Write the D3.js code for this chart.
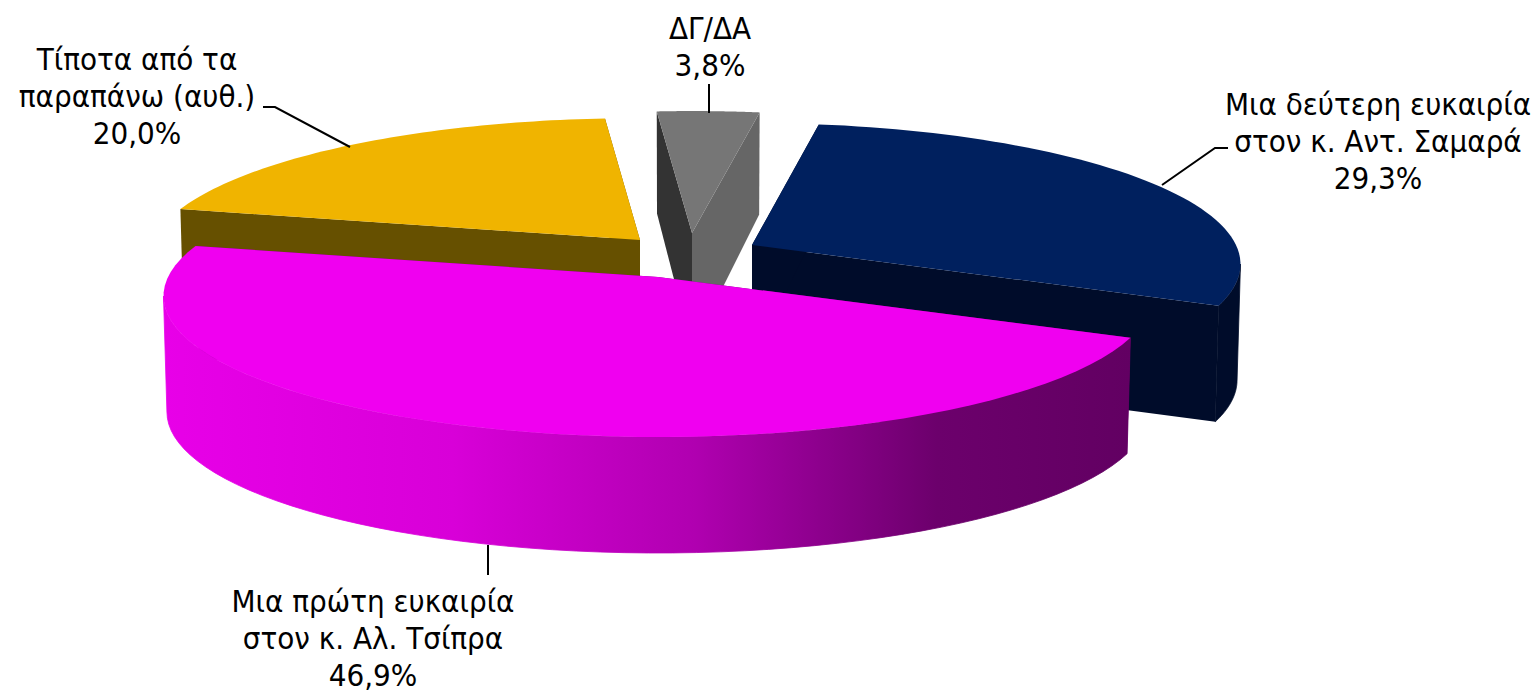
<!DOCTYPE html>
<html><head><meta charset="utf-8">
<style>html,body{margin:0;padding:0;background:#fff;overflow:hidden}svg{display:block}text{font-family:"DejaVu Sans Condensed","DejaVu Sans",sans-serif;font-stretch:condensed;font-size:31px;fill:#000;text-anchor:middle}</style>
<script src="https://cdn.jsdelivr.net/npm/d3@7"></script>
</head><body><svg id="c" width="1533" height="693"></svg>
<script>
const categories = ["Μια δεύτερη ευκαιρία|στον κ. Αντ. Σαμαρά", "Μια πρώτη ευκαιρία|στον κ. Αλ. Τσίπρα", "Τίποτα από τα|παραπάνω (αυθ.)", "ΔΓ/ΔΑ"];
const values = [29.3, 46.9, 20.0, 3.8];
const topColors = ["#00205e", "#f000f0", "#f0b400", "#767676"];
const cutColors = [["#000c2a", "#000c2a"], ["#78007a", "#78007a"], ["#665000", "#665000"], ["#666666", "#333333"]];
const wallStops = [[0, "#e800e8"], [0.3, "#d800d8"], [0.55, "#b000b0"], [0.8, "#6c006c"], [1, "#620062"]];

const layout = {
  apex: [[752, 245], [658, 277], [640, 240], [692, 233]],
  rx: [484, 490, 487, 490],
  label: [[1378, 115], [373, 612], [137, 70], [710, 39]],
  lead: [[[1162,185],[1215,148],[1228,148]], [[488,545],[488,575]], [[263,107],[275,107],[350,147]], [[709,84],[709,113]]],
  lineGap: 37, ry: 138.4, persp: 0.135, depth: 116, backLoss: 14, rotate: 9, converge: 0.993
};
const TAU = Math.PI * 2, rad = d => d * Math.PI / 180;
const svg = d3.select("#c"), defs = svg.append("defs");
const grad = defs.append("linearGradient").attr("id", "wall");
grad.selectAll("stop").data(wallStops).join("stop").attr("offset", d => d[0]).attr("stop-color", d => d[1]);

const arcs = d3.pie().sort(null).value(d => d)
  .startAngle(rad(layout.rotate)).endAngle(rad(layout.rotate) + TAU)(values);
const sxs = layout.rx.map(r => d3.scaleLinear().domain([-1, 1]).range([-r, r]));
const sy = d3.scaleLinear().domain([-1, 1]).range([layout.ry, -layout.ry]);
const persp = a => 1 / (1 + layout.persp * Math.cos(a));
const depthAt = a => layout.depth - layout.backLoss * Math.max(0, Math.cos(a));
const proj = (i, a, down) => {
  const [ax, ay] = layout.apex[i], s = persp(a);
  return [ax + sxs[i](Math.sin(a)) * s * (down ? layout.converge : 1), ay + sy(Math.cos(a)) * s + (down ? depthAt(a) : 0)];
};
const apexPt = (i, down) => [layout.apex[i][0], layout.apex[i][1] + (down ? layout.depth : 0)];
const arcAngles = (a0, a1) => d3.range(0, 61).map(k => a0 + (a1 - a0) * k / 60);
const line = d3.line().curve(d3.curveLinear);
const closed = pts => line(pts) + "Z";

const frontA = Math.acos(-layout.persp);           // where the rim turns to face the viewer
const order = [3, 2, 0, 1];                        // painter's order, back to front
order.forEach(i => {
  const d = arcs[i], g = svg.append("g");
  [d.endAngle, d.startAngle].forEach((a, k) => {
    g.append("path").attr("d", closed([apexPt(i), proj(i, a), proj(i, a, true), apexPt(i, true)]))
      .attr("fill", cutColors[i][k]);
  });
  const lo = Math.max(d.startAngle, frontA), hi = Math.min(d.endAngle, TAU - frontA);
  if (hi > lo) {
    const as = arcAngles(lo, hi), paint = i === 1 ? "url(#wall)" : cutColors[i][0];
    g.append("path").attr("d", closed([...as.map(a => proj(i, a)), ...as.slice().reverse().map(a => proj(i, a, true))]))
      .attr("fill", paint).attr("stroke", paint).attr("stroke-width", 0.8);
  }
  g.append("path").attr("d", closed([apexPt(i), ...arcAngles(d.startAngle, d.endAngle).map(a => proj(i, a))]))
    .attr("fill", topColors[i]);
});

const fmt = v => d3.format(".1f")(v).replace(".", ",") + "%";
categories.forEach((c, i) => {
  svg.append("path").attr("d", line(layout.lead[i])).attr("fill", "none").attr("stroke", "#000").attr("stroke-width", 2);
  const lines = [...c.split("|"), fmt(values[i])];
  lines.forEach((t, k) => svg.append("text").attr("x", layout.label[i][0]).attr("y", layout.label[i][1] + k * layout.lineGap).text(t));
});
</script></body></html>
